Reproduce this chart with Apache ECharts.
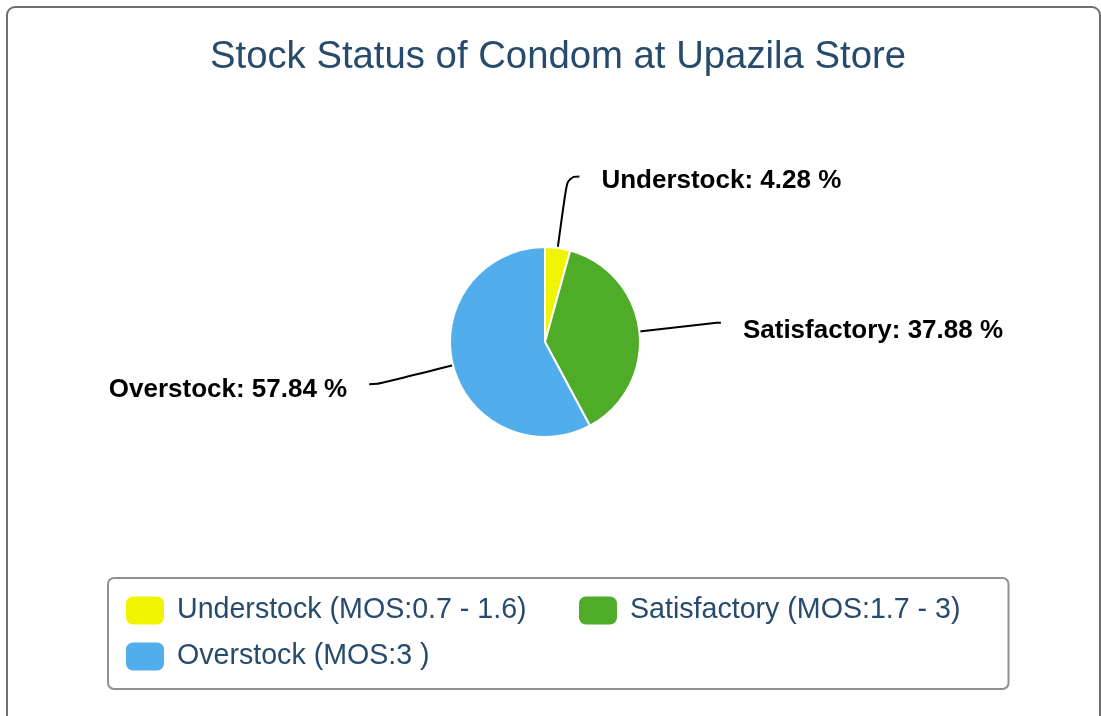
<!DOCTYPE html>
<html>
<head>
<meta charset="utf-8">
<script src="https://cdn.jsdelivr.net/npm/echarts@6/dist/echarts.min.js"></script>
<style>
  html, body { margin: 0; padding: 0; background: #ffffff; }
  #chart { width: 1101px; height: 716px; }
</style>
</head>
<body>
<div id="chart"></div>
<script>
var titleText = 'Stock Status of Condom at Upazila Store';
var categories = ['Understock', 'Satisfactory', 'Overstock'];
var legendLabels = ['Understock (MOS:0.7 - 1.6)', 'Satisfactory (MOS:1.7 - 3)', 'Overstock (MOS:3 )'];
var values = [4.28, 37.88, 57.84];
var colors = ['#f1f400', '#4fac28', '#52adec'];

var lineLengths = [[72, 12], [78, 4], [78, 8]];
var labelShift = [9, 16, 12];
var legendTextWidths = [387, 330, 387];

var FONT = '"Liberation Sans", Arial, Helvetica, sans-serif';

var chart = echarts.init(document.getElementById('chart'), null, { renderer: 'canvas' });

var pieData = categories.map(function (c, i) {
  return {
    name: c,
    value: values[i],
    itemStyle: { color: colors[i] },
    label: {
      formatter: '{s|' + c + ': ' + values[i].toFixed(2) + ' %}',
      rich: {
        s: {
          fontFamily: FONT,
          fontSize: 26,
          fontWeight: 'bold',
          color: '#000000',
          padding: [labelShift[i], 0, 0, 0]
        }
      }
    },
    labelLine: { length: lineLengths[i][0], length2: lineLengths[i][1] }
  };
});

var legendData = categories.map(function (c, i) {
  return { name: c, textStyle: { width: legendTextWidths[i] } };
});

var option = {
  animation: false,
  backgroundColor: '#ffffff',
  graphic: [{
    type: 'rect',
    shape: { x: 7, y: 7, width: 1093, height: 760, r: 8 },
    style: { fill: 'none', stroke: '#6e6e6e', lineWidth: 2 },
    silent: true,
    z: -1
  }],
  title: {
    text: titleText,
    left: 553,
    textAlign: 'center',
    top: 33,
    textStyle: {
      fontFamily: FONT,
      fontSize: 38.3,
      fontWeight: 'normal',
      color: '#274b6d',
      lineHeight: 38
    }
  },
  legend: {
    data: legendData,
    orient: 'horizontal',
    left: 108,
    top: 578,
    width: 860,
    padding: [17, 48, 17, 18],
    itemGap: 15,
    itemWidth: 38,
    itemHeight: 28,
    icon: 'roundRect',
    itemStyle: { borderWidth: 0 },
    borderColor: '#909090',
    borderWidth: 2,
    borderRadius: 6,
    selectedMode: false,
    formatter: function (name) {
      return legendLabels[categories.indexOf(name)];
    },
    textStyle: {
      fontFamily: FONT,
      fontSize: 28.6,
      color: '#274b6d',
      lineHeight: 28,
      padding: [3, 0, 0, 8]
    }
  },
  series: [{
    type: 'pie',
    center: [545, 342],
    radius: 95,
    startAngle: 90,
    clockwise: true,
    avoidLabelOverlap: false,
    data: pieData,
    itemStyle: { borderColor: '#ffffff', borderWidth: 2 },
    emphasis: { disabled: true },
    label: {
      show: true,
      position: 'outside',
      fontFamily: FONT,
      fontSize: 26,
      fontWeight: 'bold',
      color: '#000000',
      distanceToLabelLine: 22
    },
    labelLine: {
      show: true,
      smooth: 0.5,
      lineStyle: { color: '#000000', width: 2 }
    }
  }]
};

chart.setOption(option);
</script>
</body>
</html>
